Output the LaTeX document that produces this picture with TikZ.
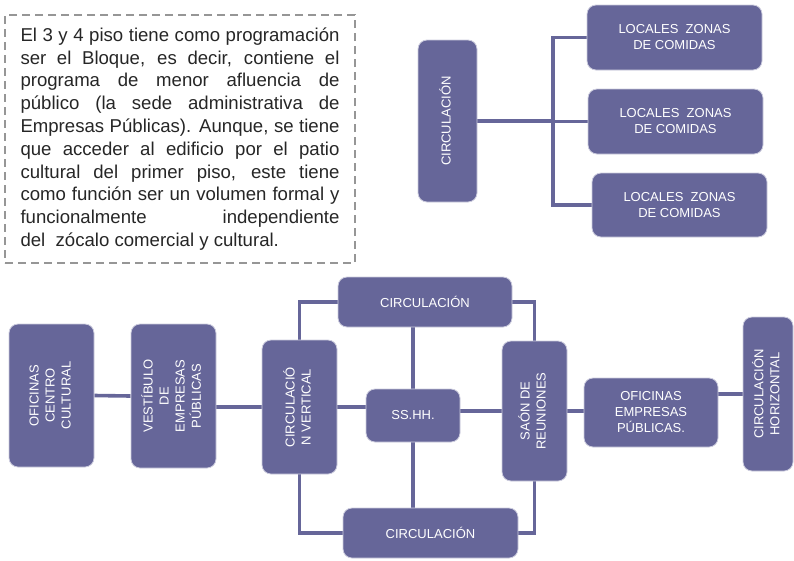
\documentclass[tikz,border=0pt]{standalone}
\usepackage{fontspec}
\setmainfont{Liberation Sans}
\usetikzlibrary{backgrounds}
\definecolor{boxc}{RGB}{102,102,153}
\definecolor{boxline}{RGB}{205,205,222}
\definecolor{dashc}{RGB}{150,150,150}
\newcommand{\vlabel}[1]{\rotatebox{90}{\begin{tabular}{@{}c@{}}#1\end{tabular}}}
\begin{document}
\begin{tikzpicture}[x=1pt,y=-1pt,
  box/.style={fill=boxc, draw=boxline, line width=0.8pt, rounded corners=9pt,
    text=white, font=\fontsize{13}{16}\selectfont, align=center, inner sep=0pt},
  link/.style={draw=boxc, line width=3.6pt},
  note/.style={draw=dashc, line width=1.8pt, dash pattern=on 8pt off 5pt,
    text width=319pt, align=justify, inner xsep=15.5pt, inner ysep=0pt,
    font=\fontsize{18.6}{22.8}\selectfont, text=black!85}]
\useasboundingbox (0,0) rectangle (794,560);

% note
\node[note, minimum height=248pt] (txt) at (180,139) {El 3 y 4 piso tiene como programación\linebreak
ser el Bloque, es decir, contiene el\linebreak
programa de menor afluencia de\linebreak
público (la sede administrativa de\linebreak
Empresas Públicas). Aunque, se tiene\linebreak
que acceder al edificio por el patio\linebreak
cultural del primer piso, este tiene\linebreak
como función ser un volumen formal y\linebreak
funcionalmente independiente\linebreak
del\ \ zócalo comercial y cultural.};

% top right group
\node[box, minimum width=59pt, minimum height=162pt] (ctop) at (447.5,121) {\vlabel{CIRCULACIÓN}};
\node[box, minimum width=175pt, minimum height=65pt] (l1) at (674.5,37.5) {LOCALES\ \ ZONAS\\DE COMIDAS};
\node[box, minimum width=175pt, minimum height=65pt] (l2) at (675.5,121.5) {LOCALES\ \ ZONAS\\DE COMIDAS};
\node[box, minimum width=175pt, minimum height=64pt] (l3) at (679.5,205) {LOCALES\ \ ZONAS\\DE COMIDAS};
\coordinate (jx) at (553,121);

% bottom group
\node[box, minimum width=85pt, minimum height=143pt] (occ) at (51.5,395.5) {\vlabel{OFICINAS\\CENTRO\\CULTURAL}};
\node[box, minimum width=85pt, minimum height=144pt] (vest) at (173.5,396) {\vlabel{VESTÍBULO\\DE\\EMPRESAS\\PÚBLICAS}};
\node[box, minimum width=75pt, minimum height=134pt] (cv) at (299.5,407) {\vlabel{CIRCULACIÓ\\N VERTICAL}};
\node[box, minimum width=174pt, minimum height=50pt] (ct) at (425,302) {CIRCULACIÓN};
\node[box, minimum width=175pt, minimum height=50pt] (cb) at (430.5,533) {CIRCULACIÓN};
\node[box, minimum width=94pt, minimum height=53pt] (ss) at (413,415.5) {SS.HH.};
\node[box, minimum width=65pt, minimum height=140pt] (sr) at (534.5,411) {\vlabel{SAÓN DE\\REUNIONES}};
\node[box, minimum width=134pt, minimum height=69pt] (ofe) at (651,412.5) {OFICINAS\\EMPRESAS\\PÚBLICAS.};
\node[box, minimum width=50pt, minimum height=154pt] (ch) at (768,394) {\vlabel{CIRCULACIÓN\\HORIZONTAL}};

\begin{scope}[on background layer]
  \draw[link] (ctop.east) -- (ctop.east -| jx);
  \draw[link] (l1.west) -- (l1.west -| jx) -- (l3.west -| jx) -- (l3.west);
  \draw[link] (l2.west) -- (l2.west -| jx);

  \draw[link] (occ.east) -- (vest.west);
  \draw[link] (cv.west -| vest.east) -- (cv.west);
  \draw[link] (cv.north) |- (ct.west);
  \draw[link] (cv.south) |- (cb.west);
  \draw[link] (cv.east) -- (cv.east -| ss.west);
  \draw[link] (ss.north) -- (ss.north |- ct.south);
  \draw[link] (ss.south) -- (ss.south |- cb.north);
  \draw[link] (ct.east) -| (sr.north);
  \draw[link] (cb.east) -| (sr.south);
  \draw[link] (ss.east |- sr.west) -- (sr.west);
  \draw[link] (sr.east) -- (sr.east -| ofe.west);
  \draw[link] (ofe.east |- ch.west) -- (ch.west);
\end{scope}
\end{tikzpicture}
\end{document}
